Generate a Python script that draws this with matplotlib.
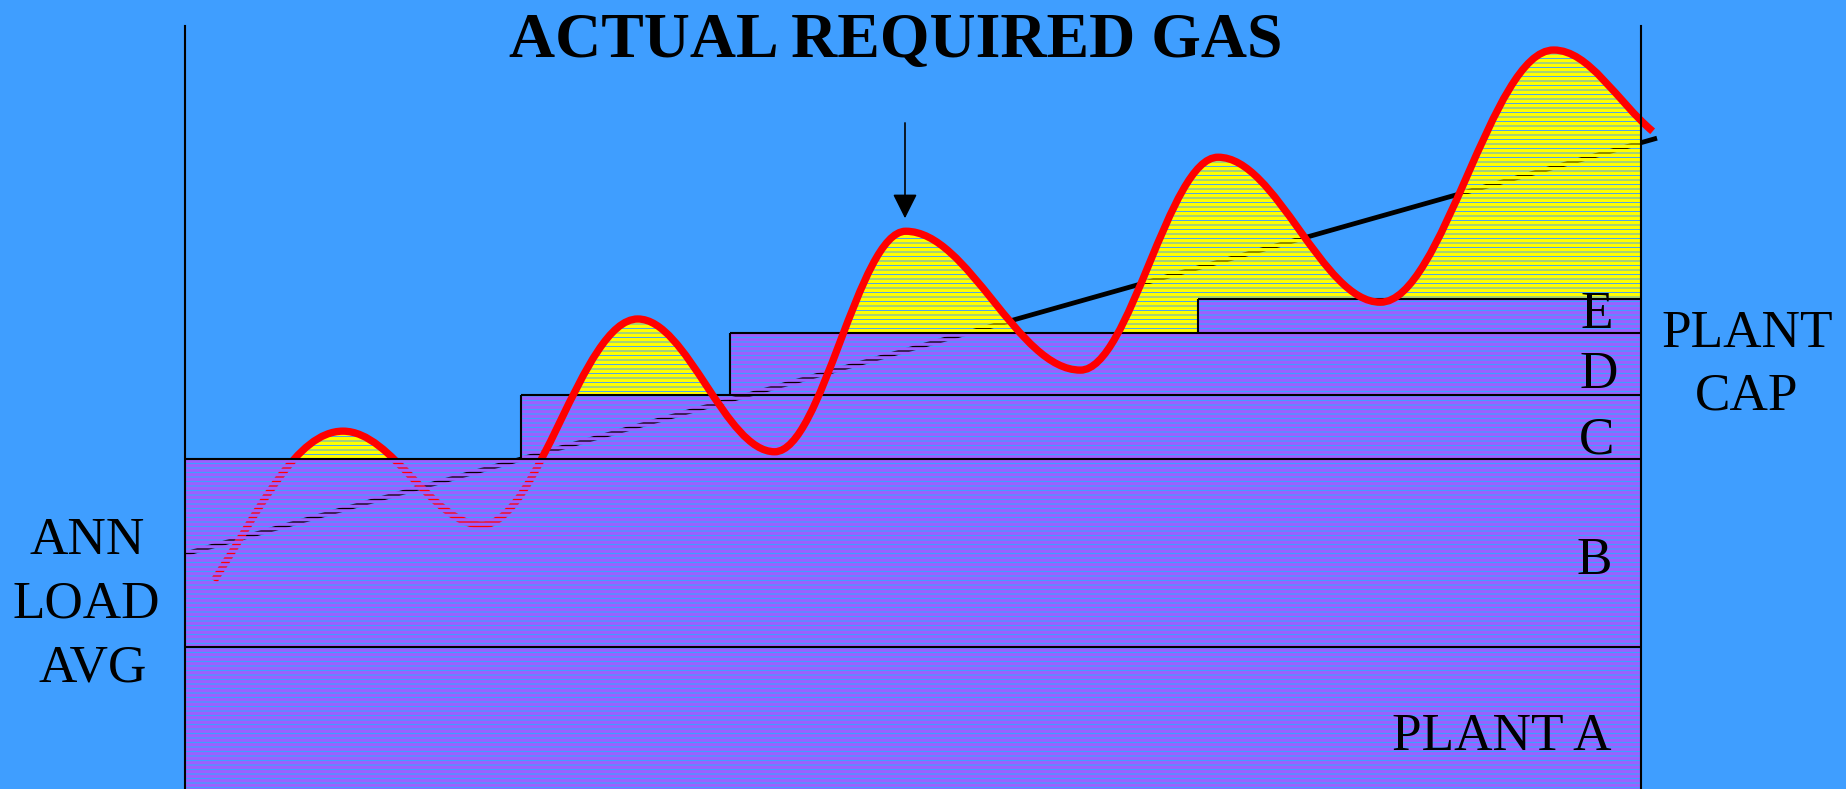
import matplotlib
matplotlib.use('Agg')
import matplotlib.pyplot as plt
from matplotlib.path import Path
from matplotlib.patches import PathPatch, Polygon, Rectangle

# ---------------- data (time 0-100 across plot, load 0-100 up the plot) -------------
block_names = ['PLANT A', 'B', 'C', 'D', 'E']
block_start = [0.0, 0.0, 23.1, 37.4, 69.6]      # when each plant block comes on
block_top = [18.6, 43.25, 51.6, 59.8, 64.2]     # cumulative plant capacity

# actual required gas: start, alternating peaks/troughs, end
gas_x = [2.0, 10.85, 20.4, 31.1, 40.5, 49.5, 61.5, 70.95, 82.1, 94.0, 100.8]
gas_y = [27.3, 46.9, 34.6, 61.6, 44.2, 73.1, 54.9, 82.8, 63.8, 96.85, 86.2]
gas_slope = [3.0, 0, 0, 0, 0, 0, 0, 0, 0, 0, -1.6]

# annual load average trend
trend_x = [0.0, 101.1]
trend_y = [30.8, 85.3]

arrow_x = 49.45
arrow_from, arrow_to = 87.3, 74.8

# ---------------- style ----------------
W, H, DPI = 1846, 789, 108
BLUE = '#3F9EFF'
PURPLE = '#9D5FFF'
YELLOW = '#FFFF00'
RED = '#FF0000'
SERIF = ['Liberation Serif', 'DejaVu Serif']
plt.rcParams['hatch.linewidth'] = 2.15

fig = plt.figure(figsize=(W / DPI, H / DPI), dpi=DPI, facecolor=BLUE)
ax = fig.add_axes([185 / W, 0, 1456 / W, 763 / H])
ax.set_xlim(0, 100)
ax.set_ylim(0, 100)
ax.set_facecolor('none')
ax.set_xticks([])
ax.set_yticks([])
for s in ('top', 'bottom'):
    ax.spines[s].set_visible(False)
for s in ('left', 'right'):
    ax.spines[s].set_linewidth(1.4)
    ax.spines[s].set_color('black')
    ax.spines[s].set_zorder(6)

# trend line (under everything)
ax.plot(trend_x, trend_y, color='black', lw=3.2, zorder=1, clip_on=False,
        solid_capstyle='butt')

# gas curve as bezier through the read points
verts = [(gas_x[0], gas_y[0])]
codes = [Path.MOVETO]
for i in range(len(gas_x) - 1):
    h = 0.36 * (gas_x[i + 1] - gas_x[i])
    verts += [(gas_x[i] + h, gas_y[i] + h * gas_slope[i]),
              (gas_x[i + 1] - h, gas_y[i + 1] - h * gas_slope[i + 1]),
              (gas_x[i + 1], gas_y[i + 1])]
    codes += [Path.CURVE4] * 3

# region above the plant blocks (for the yellow shortfall)
above = [(0, 120), (0, block_top[1])]
for i in range(2, len(block_top)):
    above += [(block_start[i], block_top[i - 1]), (block_start[i], block_top[i])]
above += [(100, block_top[-1]), (100, 120)]
clip_poly = Polygon(above, closed=True, transform=ax.transData)

fill_verts = verts + [(gas_x[-1], 0), (gas_x[0], 0), (gas_x[0], gas_y[0])]
fill_codes = codes + [Path.LINETO, Path.LINETO, Path.CLOSEPOLY]
yellow = PathPatch(Path(fill_verts, fill_codes), facecolor='none', edgecolor=YELLOW,
                   hatch='----', lw=0, zorder=2)
if hasattr(yellow, 'set_hatch_linewidth'):
    yellow.set_hatch_linewidth(2.4)
ax.add_patch(yellow)
yellow.set_clip_path(clip_poly)

# plant blocks
bottoms = [0.0] + block_top[:-1]
for i, name in enumerate(block_names):
    r = Rectangle((block_start[i], bottoms[i]), 100 - block_start[i],
                  block_top[i] - bottoms[i], facecolor='none', edgecolor=PURPLE,
                  hatch='----', lw=0, zorder=4 if i < 2 else 2)
    ax.add_patch(r)
    zo = 4.5 if i < 2 else 2.5
    ax.hlines(block_top[i], block_start[i], 100, color='black', lw=1.4, zorder=zo)
    if i >= 2:
        ax.vlines(block_start[i], bottoms[i], block_top[i], color='black', lw=1.4,
                  zorder=zo)

# red gas curve
ax.add_patch(PathPatch(Path(verts, codes), facecolor='none', edgecolor=RED, lw=4.9,
                       zorder=3, clip_on=False, capstyle='butt', joinstyle='round'))

# arrow
ax.annotate('', xy=(arrow_x, arrow_to), xytext=(arrow_x, arrow_from),
            arrowprops=dict(arrowstyle='-|>,head_length=0.7,head_width=0.35',
                            color='black', lw=1.1, shrinkA=0, shrinkB=0,
                            mutation_scale=20), zorder=7)

# ---------------- texts ----------------
def ftext(x, y, s, size=35.5, ha='center', weight='normal'):
    fig.text(x / W, 1 - y / H, s, ha=ha, va='baseline', fontsize=size,
             family=SERIF, weight=weight, color='black', zorder=8)

ftext(896, 57, 'ACTUAL REQUIRED GAS', size=42.5, weight='bold')
ftext(1597, 328, 'E')
ftext(1599, 388, 'D')
ftext(1597, 453, 'C')
ftext(1594, 574, 'B')
ftext(1612, 750, 'PLANT A', ha='right')
ftext(1747, 347, 'PLANT')
ftext(1747, 410, 'CAP')
ftext(87, 554, 'ANN')
ftext(86, 618, 'LOAD')
ftext(93, 682, 'AVG')

fig.savefig('out.png', dpi=DPI, facecolor=BLUE)
